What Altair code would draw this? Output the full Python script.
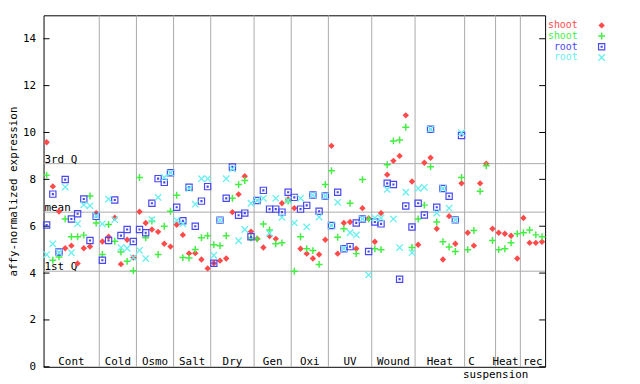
import altair as alt
import pandas as pd

# ---------------- data ----------------
groups = ["Cont", "Cold", "Osmo", "Salt", "Dry", "Gen", "Oxi", "UV", "Wound", "Heat", "C", "Heat", "rec"]
group_edges = [0, 9, 15, 21, 27, 34, 40, 46, 53, 60, 68, 73, 77, 81]
label_pos = [4.5, 12, 18, 24, 30.5, 37, 43, 49.5, 56.5, 64, 69.1, 74.6, 79]
extra_label = "suspension"
extra_label_pos = 73.0

shoot_red = [9.58, 7.70, 6.63, 5.06, 5.17, 4.41, 5.06, 5.13, 6.56,
             5.35, 5.55, 6.36, 4.38, 5.42, 4.66,
             6.62, 6.14, 5.86, 5.76, 5.25, 5.13,
             6.06, 5.63, 4.84, 4.85, 4.58, 4.20,
             4.42, 4.53, 4.62, 6.60, 7.36, 8.13, 5.77,
             5.46, 5.09, 5.58, 5.46, 6.98, 7.15,
             6.77, 5.04, 4.83, 4.62, 4.79, 5.42,
             9.43, 4.83, 6.14, 6.18, 5.04, 6.77, 6.33,
             5.34, 6.56, 8.20, 8.79, 9.00, 10.73, 7.91,
             5.21, 8.71, 8.92, 5.89, 4.58, 6.43, 5.25, 7.83,
             5.72, 5.17, 7.83, 8.67, 5.89,
             5.72, 5.68, 5.59, 4.62,
             6.35, 5.29, 5.29, 5.34]
shoot_green = [8.18, 4.55, 4.69, 6.31, 5.55, 5.55, 5.62, 7.29, 6.14,
               4.79, 6.07, 5.36, 4.90, 4.50, 4.10,
               8.08, 5.51, 6.22, 4.79, 6.00, 6.64,
               7.32, 4.66, 4.64, 5.01, 5.51, 5.59,
               5.21, 5.17, 5.59, 7.19, 7.78, 7.95, 5.50,
               5.46, 6.09, 5.84, 5.25, 5.29, 7.07,
               4.08, 5.55, 5.04, 4.96, 4.37, 7.78,
               8.37, 5.53, 5.89, 6.98, 4.83, 7.99, 6.31,
               5.04, 5.00, 8.62, 9.64, 9.68, 10.22, 5.09,
               6.31, 6.90, 8.54, 6.18, 5.34, 5.11, 4.92, 8.08,
               5.00, 5.82, 7.49, 8.58, 5.39,
               5.00, 5.04, 5.29, 5.68,
               5.72, 5.84, 5.63, 5.55]
root_blue = [6.05, 7.37, 4.90, 7.99, 6.31, 6.53, 7.16, 5.39, 6.42,
             4.55, 5.39, 7.12, 5.60, 5.86, 5.35,
             5.86, 5.72, 6.98, 8.03, 7.87, 8.28,
             6.81, 6.23, 7.66, 6.00, 7.07, 7.69,
             4.42, 6.26, 7.19, 8.53, 6.47, 6.56, 5.55,
             7.10, 7.53, 6.73, 6.73, 6.60, 7.45,
             7.23, 6.73, 6.89, 7.33, 6.64, 7.29,
             6.03, 7.45, 5.04, 5.13, 6.14, 6.31, 4.92,
             6.18, 6.10, 7.83, 7.78, 3.74, 6.86, 5.97,
             6.98, 6.48, 10.14, 6.81, 7.61, 7.28, 6.27, 9.87]
root_cyan = [4.79, 5.25, 4.88, 7.67, 4.87, 6.11, 6.91, 6.87, 6.45,
             6.10, 7.16, 6.28, 5.09, 5.06, 4.66,
             4.97, 4.62, 6.28, 7.23, 8.08, 8.28,
             6.25, 6.10, 7.60, 6.94, 8.03, 8.03,
             4.76, 6.26, 8.03, 8.45, 5.38, 5.86, 6.98,
             7.10, 7.19, 5.70, 7.19, 6.38, 7.10,
             6.14, 7.19, 5.97, 7.33, 6.39, 7.29,
             6.03, 7.02, 5.04, 5.72, 5.63, 6.31, 3.92,
             6.35, 6.35, 7.57, 6.31, 5.09, 7.45, 4.87,
             7.61, 7.66, 10.14, 6.56, 7.61, 6.77, 6.27, 9.99]

quart_names = ["3rd Q", "mean", "1st Q"]
quart_values = [8.67, 6.60, 4.08]
y_ticks = [0, 2, 4, 6, 8, 10, 12, 14]

series_keys = ["shoot_a", "shoot_b", "root_a", "root_b"]
series_labels = ["shoot", "shoot", "root", "root"]
series_colors = ["#ff4a4a", "#44ee44", "#4848f0", "#66f0f0"]
legend_y = [14.57, 14.12, 13.66, 13.20]
legend_text_x = 86.26
legend_mark_x = 90.13

# ---------------- tables ----------------
rows = []
for key, vals in zip(series_keys, [shoot_red, shoot_green, root_blue, root_cyan]):
    for i, v in enumerate(vals):
        rows.append({"x": i + 0.5, "y": v, "series": key})
points = pd.DataFrame(rows)

legend_df = pd.DataFrame({"series": series_keys, "label": series_labels,
                          "y": legend_y, "tx": legend_text_x, "mx": legend_mark_x})
sep_df = pd.DataFrame({"x": group_edges[1:-1]})
glabel_df = pd.DataFrame({"x": label_pos, "label": groups})
extra_df = pd.DataFrame({"x": [extra_label_pos], "label": [extra_label]})
quart_df = pd.DataFrame({"name": quart_names, "y": quart_values})
tick_df = pd.DataFrame({"y": y_ticks})

W, H = 508, 356
FONT = "DejaVu Sans Mono"

xs = alt.Scale(domain=[0, 81], nice=False, zero=False)
ys = alt.Scale(domain=[0, 15], nice=False, zero=False)
cs = alt.Scale(domain=series_keys, range=series_colors)

y_axis = alt.Axis(
    values=y_ticks, title="affy-normalized expression", grid=False, domain=False,
    ticks=False, labelPadding=8, labelFont=FONT, labelFontSize=11, labelColor="black",
    titleFont=FONT, titleFontSize=11, titleFontWeight="normal", titleColor="black",
    titleX=-30.5, titleY=H / 2, titleAngle=270, titleAlign="center", titleBaseline="middle")


def X(f):
    return alt.X(f, type="quantitative", scale=xs, axis=None)


def Y(f):
    return alt.Y(f, type="quantitative", scale=ys, axis=y_axis)


shapes = {
    "shoot_a": dict(shape="diamond", filled=True, size=42, strokeWidth=0),
    "shoot_b": dict(shape="M-1,0L1,0M0,-1L0,1", filled=False, size=49, strokeWidth=1.5),
    "root_a": dict(shape="M-1,-1L1,-1L1,1L-1,1Z M-0.15,-0.15L0.15,-0.15L0.15,0.15L-0.15,0.15Z",
                   filled=False, size=40, strokeWidth=1.2),
    "root_b": dict(shape="M-1,-1L1,1M1,-1L-1,1", filled=False, size=42, strokeWidth=1.3),
}


def series_layer(df, key, xf, color):
    return alt.Chart(df).transform_filter(alt.datum.series == key).mark_point(
        opacity=1, color=color, **shapes[key]
    ).encode(x=X(xf), y=Y("y"))


seps = alt.Chart(sep_df).mark_rule(color="#aaaaaa", strokeWidth=1).encode(x=X("x"))
quart_lines = alt.Chart(quart_df).mark_rule(color="#aaaaaa", strokeWidth=1).encode(y=Y("y"))
quart_text = alt.Chart(quart_df).mark_text(
    align="left", baseline="alphabetic", dy=-1, font=FONT, fontSize=11, color="black"
).encode(x=alt.value(1), y=Y("y"), text="name:N")

tick_l = alt.Chart(tick_df).mark_rule(color="black").encode(
    x=alt.value(0), x2=alt.value(6), y=Y("y"))
tick_r = alt.Chart(tick_df).mark_rule(color="black").encode(
    x=alt.value(W - 6), x2=alt.value(W), y=Y("y"))

glabels = alt.Chart(glabel_df).mark_text(
    align="center", baseline="alphabetic", dy=-2, font=FONT, fontSize=11, color="black"
).encode(x=X("x"), y=alt.value(H), text="label:N")
elabel = alt.Chart(extra_df).mark_text(
    align="center", baseline="alphabetic", dy=11, font=FONT, fontSize=11, color="black"
).encode(x=X("x"), y=alt.value(H), text="label:N")

layers = [tick_l, seps, quart_lines, quart_text, tick_r, glabels, elabel]
for key, col in zip(series_keys, series_colors):
    layers.append(series_layer(points, key, "x", col))

legend_text = alt.Chart(legend_df).mark_text(
    align="right", baseline="middle", font=FONT, fontSize=10
).encode(x=X("tx"), y=Y("y"), text="label:N",
         color=alt.Color("series:N", scale=cs, legend=None))
layers.append(legend_text)
for key, col in zip(series_keys, series_colors):
    layers.append(series_layer(legend_df, key, "mx", col))

chart = alt.layer(*layers).properties(
    width=W, height=H,
    autosize=alt.AutoSizeParams(type="none"),
    padding={"left": 36, "top": 5, "right": 88, "bottom": 15},
    background="white",
).configure_view(stroke="black", strokeWidth=1)

chart.save("out.html", embed_options={"renderer": "svg", "actions": False})
